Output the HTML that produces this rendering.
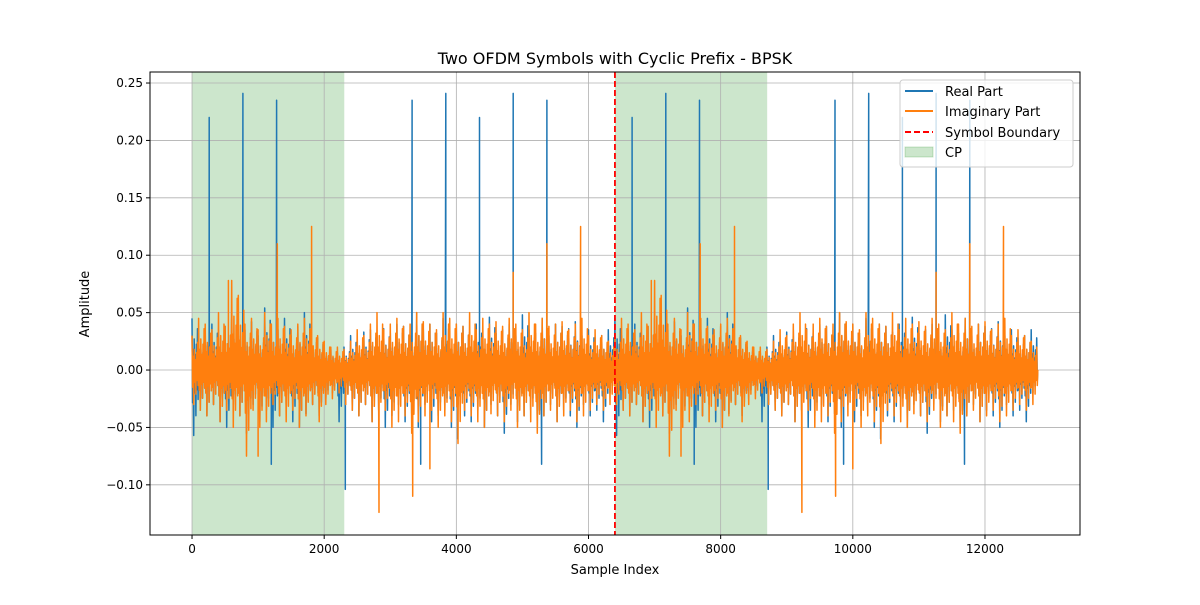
<!DOCTYPE html>
<html><head><meta charset="utf-8"><style>
body{margin:0;background:#fff;font-family:"Liberation Sans","DejaVu Sans",sans-serif}
svg text{font-family:"DejaVu Sans","Liberation Sans",sans-serif}
</style></head><body>
<svg id="chart" width="1200" height="600" xmlns="http://www.w3.org/2000/svg">
<rect width="1200" height="600" fill="#fff"/>
<g id="spans"></g>
<g id="grid"></g>
<g id="series"></g>
<g id="axes"></g>
<text x="615" y="64" text-anchor="middle" font-size="16">Two OFDM Symbols with Cyclic Prefix - BPSK</text>
<text x="615" y="574" text-anchor="middle" font-size="13">Sample Index</text>
<text transform="translate(89,304) rotate(-90)" text-anchor="middle" font-size="13">Amplitude</text>
<g>
<rect x="900" y="80" width="173" height="87" rx="3" fill="#fff" fill-opacity="0.8" stroke="#ccc"/>
<g><line x1="905" y1="91" x2="933" y2="91" stroke="#1f77b4" stroke-width="2"/><text x="945" y="96" font-size="13">Real Part</text></g>
<g><line x1="905" y1="111" x2="933" y2="111" stroke="#ff7f0e" stroke-width="2"/><text x="945" y="116" font-size="13">Imaginary Part</text></g>
<g><line x1="905" y1="132" x2="933" y2="132" stroke="red" stroke-width="2" stroke-dasharray="6,3"/><text x="945" y="137" font-size="13">Symbol Boundary</text></g>
<g><rect x="905" y="147" width="28" height="10" fill="#008000" fill-opacity="0.2" stroke="#008000" stroke-opacity="0.2"/><text x="945" y="157" font-size="13">CP</text></g>
</g>
</svg>
<script>
const xTicks=[0,2000,4000,6000,8000,10000,12000];
const yTicks=[-0.10,-0.05,0.00,0.05,0.10,0.15,0.20,0.25];
const yTickLabels=["−0.10","−0.05","0.00","0.05","0.10","0.15","0.20","0.25"];
const symbolLen=6400, cpLen=2304, nSymbols=2, binSize=100;
// per-100-sample bin envelopes for one symbol (64 bins)
const realHi=[0.045,0.03,0.035,0.04,0.028,0.038,0.045,0.03,0.035,0.042,0.03,0.054,0.04,0.035,0.045,0.03,0.038,0.05,0.03,0.028,0.02,0.018,0.015,0.02,0.03,0.025,0.033,0.035,0.03,0.036,0.032,0.04,0.038,0.03,0.05,0.035,0.04,0.032,0.045,0.03,0.04,0.038,0.033,0.04,0.03,0.046,0.032,0.035,0.04,0.03,0.048,0.035,0.032,0.045,0.03,0.04,0.038,0.036,0.042,0.03,0.035,0.028,0.03,0.035];
const realLo=[-0.057,-0.035,-0.04,-0.03,-0.045,-0.05,-0.03,-0.04,-0.055,-0.03,-0.045,-0.035,-0.05,-0.04,-0.03,-0.045,-0.05,-0.038,-0.03,-0.04,-0.025,-0.02,-0.045,-0.03,-0.035,-0.04,-0.03,-0.045,-0.035,-0.05,-0.04,-0.03,-0.045,-0.038,-0.05,-0.03,-0.045,-0.04,-0.035,-0.05,-0.03,-0.04,-0.045,-0.035,-0.05,-0.03,-0.04,-0.055,-0.03,-0.045,-0.04,-0.035,-0.05,-0.04,-0.03,-0.045,-0.035,-0.04,-0.05,-0.03,-0.04,-0.035,-0.045,-0.02];
const imagHi=[0.03,0.045,0.04,0.035,0.05,0.038,0.078,0.065,0.04,0.045,0.035,0.05,0.04,0.045,0.038,0.035,0.04,0.045,0.035,0.03,0.025,0.02,0.02,0.018,0.025,0.035,0.03,0.04,0.05,0.035,0.04,0.045,0.038,0.04,0.05,0.042,0.04,0.035,0.05,0.045,0.04,0.038,0.05,0.035,0.045,0.04,0.042,0.038,0.045,0.04,0.035,0.05,0.04,0.045,0.038,0.04,0.042,0.035,0.04,0.045,0.03,0.035,0.03,0.025];
const imagLo=[-0.03,-0.035,-0.04,-0.03,-0.045,-0.035,-0.05,-0.04,-0.075,-0.035,-0.05,-0.045,-0.03,-0.04,-0.045,-0.035,-0.05,-0.04,-0.03,-0.045,-0.03,-0.025,-0.02,-0.03,-0.035,-0.04,-0.03,-0.045,-0.04,-0.035,-0.05,-0.045,-0.04,-0.055,-0.045,-0.04,-0.035,-0.05,-0.04,-0.045,-0.064,-0.035,-0.04,-0.045,-0.05,-0.038,-0.04,-0.045,-0.035,-0.05,-0.04,-0.045,-0.055,-0.04,-0.035,-0.045,-0.04,-0.035,-0.045,-0.04,-0.035,-0.03,-0.035,-0.03];
// spikes within one symbol: sample index and value
const realSpikeIdx=[260,770,1280,3330,3840,4350,4860,5370,1200,2320,3460,5290,4020];
const realSpikeVal=[0.22,0.241,0.235,0.235,0.241,0.22,0.241,0.235,-0.082,-0.104,-0.082,-0.082,-0.06];
const imagSpikeIdx=[1810,5880,1290,5370,2830,3340,3600,550,4860,1000];
const imagSpikeVal=[0.125,0.125,0.11,0.11,-0.124,-0.11,-0.086,0.078,0.085,-0.075];

const L=150,R=1080,T=72,B=535,xmin=-636,xmax=13438,ymin=-0.1437,ymax=0.2596;
const sx=v=>L+(v-xmin)/(xmax-xmin)*(R-L);
const sy=v=>B-(v-ymin)/(ymax-ymin)*(B-T);
const NS="http://www.w3.org/2000/svg";
function mk(tag,attrs,parent){const e=document.createElementNS(NS,tag);for(const k in attrs)e.setAttribute(k,attrs[k]);parent.appendChild(e);return e;}
const gS=document.getElementById('spans'),gG=document.getElementById('grid'),gSe=document.getElementById('series'),gA=document.getElementById('axes');
for(let s=0;s<nSymbols;s++){
  const r=mk('rect',{x:sx(s*symbolLen),y:T,width:sx(s*symbolLen+cpLen)-sx(s*symbolLen),height:B-T,fill:'#008000','fill-opacity':0.2},gS);
  
  
}
xTicks.forEach(t=>{
  const l=mk('line',{x1:sx(t),x2:sx(t),y1:T,y2:B,stroke:'#b0b0b0','stroke-width':0.8},gG);
  
  
  mk('line',{x1:sx(t),x2:sx(t),y1:B,y2:B+4,stroke:'#000'},gA);
  const tx=mk('text',{x:sx(t),y:B+18,'text-anchor':'middle','font-size':12},gA);tx.textContent=t;
  
  
});
yTicks.forEach((t,i)=>{
  const l=mk('line',{x1:L,x2:R,y1:sy(t),y2:sy(t),stroke:'#b0b0b0','stroke-width':0.8},gG);
  
  
  mk('line',{x1:L-4,x2:L,y1:sy(t),y2:sy(t),stroke:'#000'},gA);
  const tx=mk('text',{x:L-7,y:sy(t)+4,'text-anchor':'end','font-size':12},gA);tx.textContent=yTickLabels[i];
  
  
});
mk('rect',{x:L,y:T,width:R-L,height:B-T,fill:'none',stroke:'#000','stroke-width':1},gA);
// fixed rendering pattern of sub-strokes inside each bin (scaled by the bin envelope)
const subPattern=[[0,1],[1,-0.5],[2,0.4],[3,-1],[4,0.6],[5,-0.35],[6,0.3],[7,-0.7],[8,0.5],[9,-0.3],[10,0.8],[11,-0.45]];
function series(hi,lo,sIdx,sVal,color,name){
  let pts=[];
  for(let s=0;s<nSymbols;s++){
    const off=s*symbolLen;
    const ev=[];
    for(let b=0;b<hi.length;b++){
      subPattern.forEach(([k,f])=>{ev.push([off+b*binSize+k*binSize/subPattern.length,f>0?hi[b]*f:-lo[b]*f]);});
    }
    sIdx.forEach((ix,k)=>{ev.push([off+ix,sVal[k]]);ev.push([off+ix+1,0]);});
    ev.sort((a,b)=>a[0]-b[0]);
    pts=pts.concat(ev);
  }
  pts.push([nSymbols*symbolLen,0]);
  const p=mk('polyline',{points:pts.map(p=>sx(p[0]).toFixed(1)+','+sy(p[1]).toFixed(1)).join(' '),fill:'none',stroke:color,'stroke-width':1.5,'stroke-linejoin':'round'},gSe);
  
  
}
series(realHi,realLo,realSpikeIdx,realSpikeVal,'#1f77b4','real-part-line');
series(imagHi,imagLo,imagSpikeIdx,imagSpikeVal,'#ff7f0e','imaginary-part-line');
const bl=mk('line',{x1:sx(symbolLen),x2:sx(symbolLen),y1:T,y2:B,stroke:'red','stroke-width':1.8,'stroke-dasharray':'6,3'},gSe);


</script>
</body></html>
